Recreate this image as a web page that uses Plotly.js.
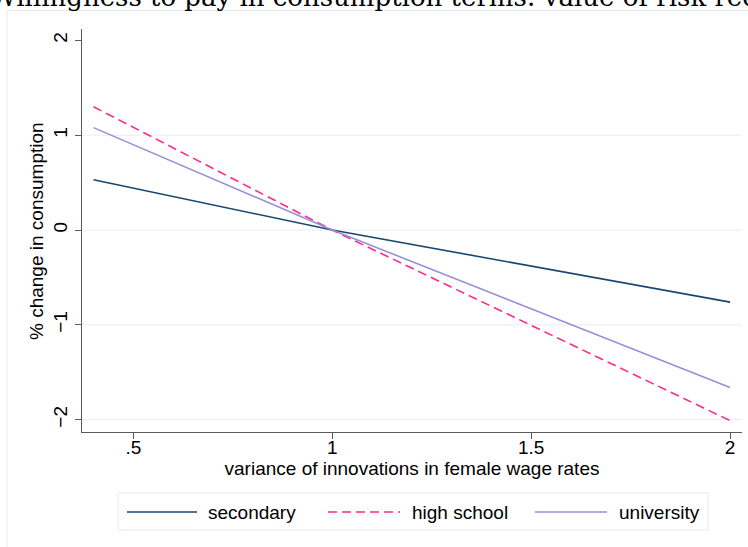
<!DOCTYPE html>
<html>
<head>
<meta charset="utf-8">
<script src="https://cdn.plot.ly/plotly-3.0.1.min.js"></script>
<style>
  html, body { margin: 0; padding: 0; background: #ffffff; }
  #chart { width: 748px; height: 547px; }
</style>
</head>
<body>
<div id="chart"></div>
<script>
// ---- data ----
const xValues = [0.4, 1, 2];
const seriesNames = ["secondary", "high school", "university"];
const secondary = [0.53, 0, -0.76];
const highSchool = [1.30, 0, -2.01];
const university = [1.08, 0, -1.66];
const xTickVals = [0.5, 1, 1.5, 2];
const xTickText = [".5", "1", "1.5", "2"];
const yTickVals = [-2, -1, 0, 1, 2];
const yTickText = ["\u22122", "\u22121", "0", "1", "2"];
const yGridVals = [-2, -1, 0, 1];
const chartTitle = "Willingness to pay in consumption terms: value of risk reduction";
const xTitle = "variance of innovations in female wage rates";
const yTitle = "% change in consumption";

// ---- styles ----
const colors = ["#1a476f", "#ff2a8a", "#9890da"];
const dashes = ["solid", "9px,5px", "solid"];
const FONT = "Liberation Sans, Arial, Helvetica, sans-serif";
const W = 748, H = 547;
const M = { l: 82, r: 6, t: 29, b: 115 };
const PW = W - M.l - M.r, PH = H - M.t - M.b;
const px = v => (v - M.l) / PW;          // pixel x -> paper x
const py = v => (H - M.b - v) / PH;      // pixel y -> paper y

const seriesData = [secondary, highSchool, university];
const traces = seriesData.map((ys, i) => ({
  type: "scatter",
  mode: "lines",
  x: xValues,
  y: ys,
  name: seriesNames[i],
  line: { color: colors[i], width: 1.6, dash: dashes[i] },
  showlegend: false,
  hoverinfo: "skip"
}));

const shapes = [];
// outer graph-region frame
shapes.push({ type: "rect", xref: "paper", yref: "paper",
  x0: px(7), x1: px(770), y0: py(570), y1: py(10.5),
  line: { color: "#e2eaea", width: 1 }, fillcolor: "rgba(0,0,0,0)", layer: "below" });
// horizontal gridlines
yGridVals.forEach(g => shapes.push({ type: "line", xref: "paper", yref: "y",
  x0: 0, x1: 1, y0: g, y1: g, line: { color: "#e6eeee", width: 1 }, layer: "below" }));
// legend box
shapes.push({ type: "rect", xref: "paper", yref: "paper",
  x0: px(118), x1: px(708), y0: py(530), y1: py(493),
  line: { color: "#e2eaea", width: 1 }, fillcolor: "#ffffff", layer: "below" });

const legendLine = [[127, 197], [328, 400], [535, 607]];
const legendText = [206, 410, 617];
const legendY = 512;
const annotations = [];
seriesNames.forEach((n, i) => {
  shapes.push({ type: "line", xref: "paper", yref: "paper",
    x0: px(legendLine[i][0]), x1: px(legendLine[i][1]), y0: py(legendY), y1: py(legendY),
    line: { color: colors[i], width: 1.6, dash: dashes[i] } });
  annotations.push({ xref: "paper", yref: "paper", x: px(legendText[i]), y: py(legendY),
    xanchor: "left", yanchor: "middle", showarrow: false, text: n,
    font: { family: FONT, size: 19, color: "#000000" } });
});
// y-axis title
annotations.push({ xref: "paper", yref: "paper", x: px(36), y: py(231),
  xanchor: "center", yanchor: "middle", showarrow: false, text: yTitle, textangle: -90,
  font: { family: FONT, size: 19, color: "#000000" } });
// cut-off chart title at top
annotations.push({ xref: "paper", yref: "paper", x: px(-12), y: py(-2.5),
  xanchor: "left", yanchor: "middle", showarrow: false, text: chartTitle,
  font: { family: "DejaVu Serif, serif", size: 26, color: "#000000" } });

const layout = {
  width: W, height: H,
  margin: M,
  paper_bgcolor: "#ffffff",
  plot_bgcolor: "#ffffff",
  font: { family: FONT, size: 19, color: "#000000" },
  showlegend: false,
  xaxis: {
    range: [0.371, 2.03],
    tickmode: "array", tickvals: xTickVals, ticktext: xTickText,
    showgrid: false, zeroline: false,
    showline: true, linecolor: "#5a5a5a", linewidth: 1,
    ticks: "outside", ticklen: 6, tickcolor: "#5a5a5a",
    ticklabelstandoff: -8,
    tickfont: { family: FONT, size: 19, color: "#000000" },
    title: { text: xTitle, font: { family: FONT, size: 19, color: "#000000" }, standoff: 2 },
    automargin: false
  },
  yaxis: {
    range: [-2.13, 2.12],
    tickmode: "array", tickvals: yTickVals, ticktext: yTickText,
    tickangle: -90,
    showgrid: false, zeroline: false,
    showline: true, linecolor: "#5a5a5a", linewidth: 1,
    ticks: "outside", ticklen: 6, tickcolor: "#5a5a5a",
    ticklabelstandoff: 0,
    tickfont: { family: FONT, size: 19, color: "#000000" },
    automargin: false
  },
  shapes: shapes,
  annotations: annotations
};

Plotly.newPlot("chart", traces, layout, { displayModeBar: false, staticPlot: true });
</script>
</body>
</html>
